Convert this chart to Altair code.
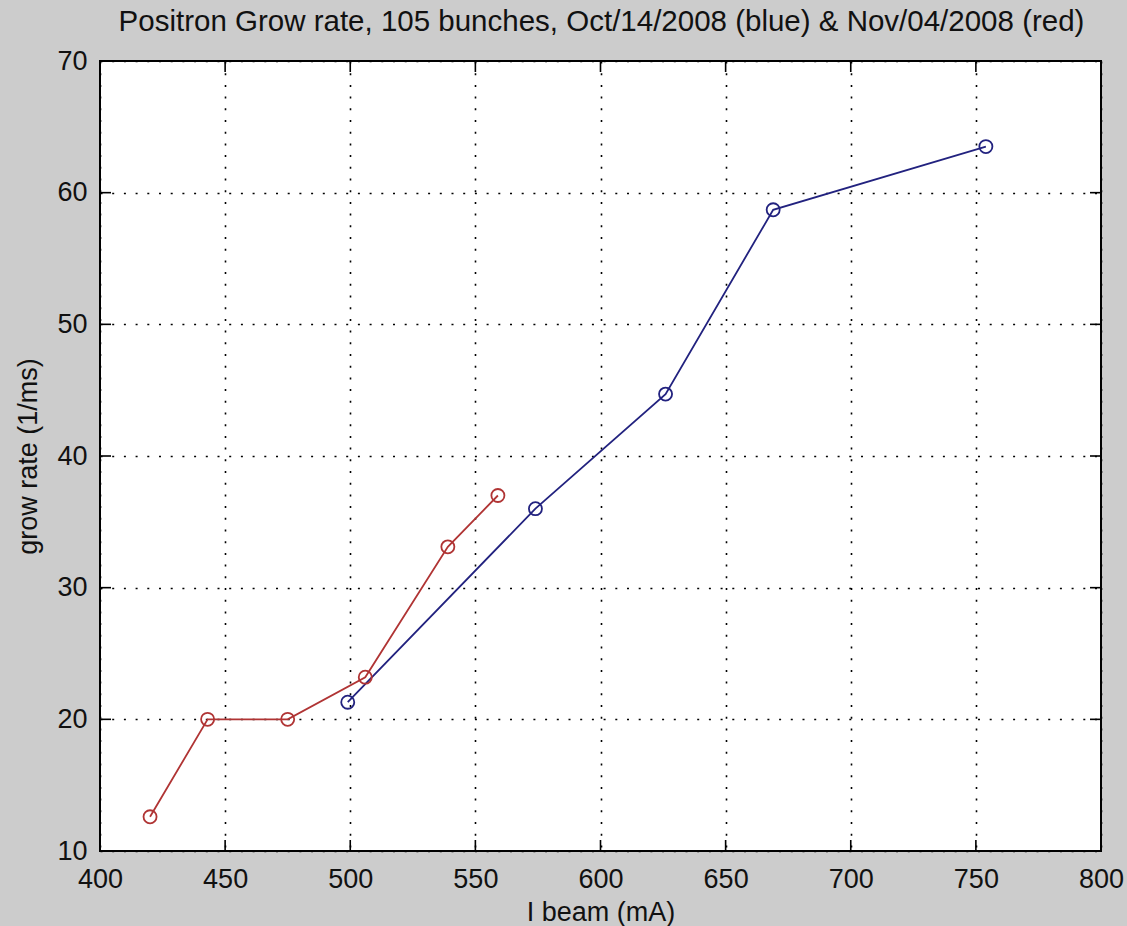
import altair as alt
import pandas as pd

# Data
red_x = [420, 443, 475, 506, 539, 559]
red_y = [12.6, 20.0, 20.0, 23.2, 33.1, 37.0]
blue_x = [499, 574, 626, 669, 754]
blue_y = [21.3, 36.0, 44.7, 58.7, 63.5]

x_ticks = [400, 450, 500, 550, 600, 650, 700, 750, 800]
y_ticks = [10, 20, 30, 40, 50, 60, 70]

series_names = ["Oct/14/2008", "Nov/04/2008"]
series_colors = ["#22227f", "#b03434"]

FONT = "Liberation Sans"
W, H = 1001, 790

df = pd.DataFrame(
    {"x": blue_x + red_x,
     "y": blue_y + red_y,
     "s": [series_names[0]] * len(blue_x) + [series_names[1]] * len(red_x)}
)
xt = pd.DataFrame({"x": x_ticks})
yt = pd.DataFrame({"y": y_ticks})

xscale = alt.Scale(domain=[400, 800], nice=False, zero=False)
yscale = alt.Scale(domain=[10, 70], nice=False, zero=False)

xaxis = alt.Axis(values=x_ticks, grid=True, gridDash=[2, 9.7], gridColor="#000000",
                 gridWidth=1.6, gridOpacity=1, domain=False, ticks=False, tickSize=0,
                 labelFlush=False, labelOverlap=False,
                 labelFont=FONT, labelFontSize=27, labelColor="#111111", labelPadding=15,
                 titleFont=FONT, titleFontSize=27, titleFontWeight="normal", titleColor="#111111",
                 titleY=69, titleBaseline="alphabetic")
yaxis = alt.Axis(values=y_ticks, grid=True, gridDash=[2, 9.7], gridColor="#000000",
                 gridWidth=1.6, gridOpacity=1, domain=False, ticks=False, tickSize=0,
                 labelFlush=False, labelOverlap=False,
                 labelFont=FONT, labelFontSize=27, labelColor="#111111", labelPadding=13,
                 titleFont=FONT, titleFontSize=27, titleFontWeight="normal", titleColor="#111111",
                 titleX=-64, titleBaseline="alphabetic")

X = alt.X("x:Q", scale=xscale, axis=xaxis, title="I beam (mA)")
Y = alt.Y("y:Q", scale=yscale, axis=yaxis, title="grow rate (1/ms)")

lines = alt.Chart(df).mark_line(
    strokeWidth=1.8,
    point=alt.OverlayMarkDef(filled=False, size=170, strokeWidth=1.8, shape="circle"),
).encode(
    x=X, y=Y,
    color=alt.Color("s:N", scale=alt.Scale(domain=series_names, range=series_colors), legend=None),
)

tick_len = 11
xb = alt.Chart(xt).mark_rule(color="#000000", strokeWidth=1.6).encode(
    x=X, y=alt.value(H), y2=alt.value(H - tick_len))
xtop = alt.Chart(xt).mark_rule(color="#000000", strokeWidth=1.6).encode(
    x=X, y=alt.value(0), y2=alt.value(tick_len))
yl = alt.Chart(yt).mark_rule(color="#000000", strokeWidth=1.6).encode(
    y=Y, x=alt.value(0), x2=alt.value(tick_len))
yr = alt.Chart(yt).mark_rule(color="#000000", strokeWidth=1.6).encode(
    y=Y, x=alt.value(W), x2=alt.value(W - tick_len))

chart = alt.layer(xb, xtop, yl, yr, lines).properties(
    width=W, height=H,
    title=alt.Title(
        "Positron Grow rate, 105 bunches, Oct/14/2008 (blue) & Nov/04/2008 (red)",
        font=FONT, fontSize=29.5, fontWeight="normal", color="#111111",
        anchor="middle", baseline="alphabetic", offset=30, dx=1, dy=43,
    ),
    padding={"left": 100, "top": 61, "right": 26, "bottom": 75},
    autosize=alt.AutoSizeParams(type="none"),
).configure(
    background="#cccccc",
).configure_view(
    fill="#ffffff", stroke="#000000", strokeWidth=2,
)

chart.save("out.html", embed_options={"renderer": "svg", "actions": False})
